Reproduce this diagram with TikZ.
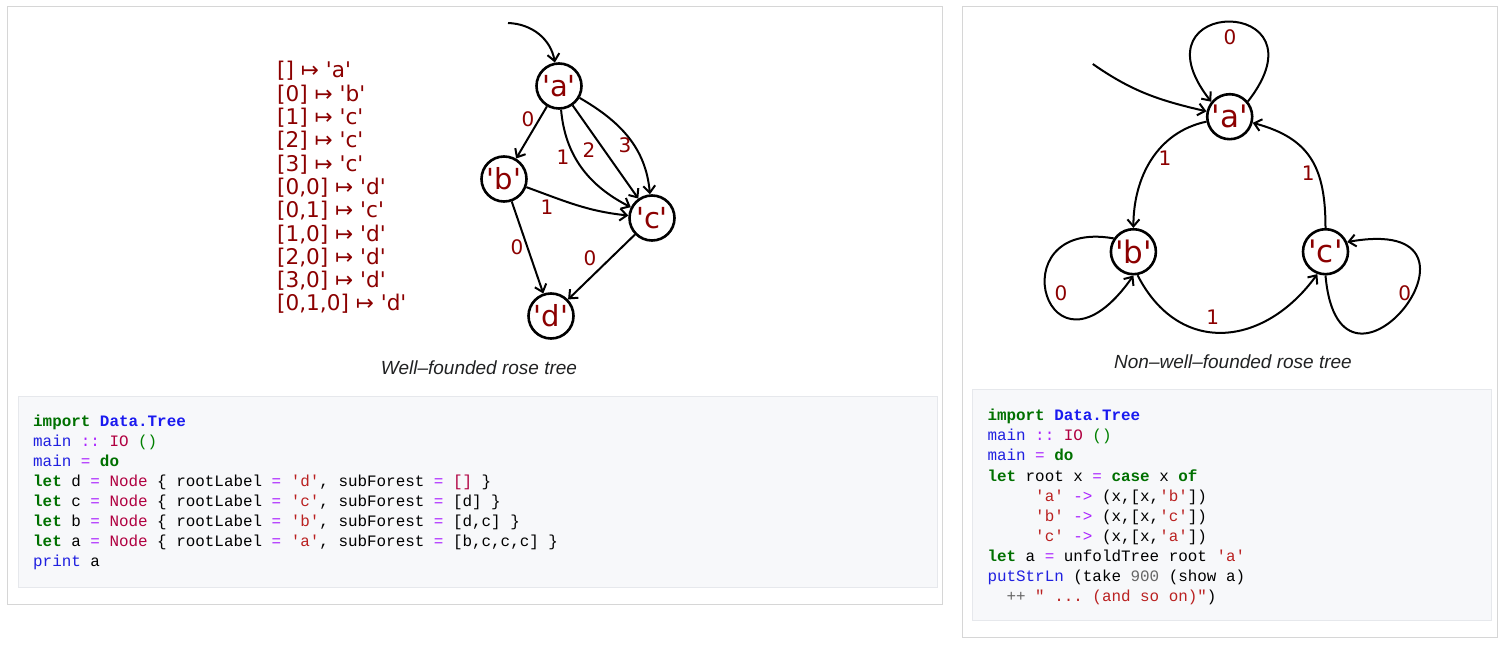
\documentclass[tikz,border=0pt]{standalone}
\usepackage{fontspec}
\setmonofont{Liberation Mono}
\newfontfamily\dvfont{DejaVu Sans}
\newfontfamily\capfont{Liberation Sans}
\usetikzlibrary{arrows.meta}
\definecolor{lblred}{HTML}{8B0000}
\definecolor{panelline}{HTML}{D6D6D6}
\definecolor{codebg}{HTML}{F7F8FA}
\definecolor{codeline}{HTML}{E6E8EC}
\definecolor{ckw}{HTML}{007000}
\definecolor{cns}{HTML}{1A1AF0}
\definecolor{cfn}{HTML}{2020E0}
\definecolor{cop}{HTML}{AA22FF}
\definecolor{cty}{HTML}{B00040}
\definecolor{cun}{HTML}{008000}
\definecolor{cst}{HTML}{BA2121}
\definecolor{cnm}{HTML}{666666}
\definecolor{captxt}{HTML}{202122}
\newcommand\hkw[1]{\textcolor{ckw}{\bfseries #1}}
\newcommand\hns[1]{\textcolor{cns}{\bfseries #1}}
\newcommand\hfn[1]{\textcolor{cfn}{#1}}
\newcommand\hop[1]{\textcolor{cop}{#1}}
\newcommand\hty[1]{\textcolor{cty}{#1}}
\newcommand\hun[1]{\textcolor{cun}{#1}}
\newcommand\hst[1]{\textcolor{cst}{#1}}
\newcommand\hnm[1]{\textcolor{cnm}{#1}}
\tikzset{
  panel/.style={draw=panelline, line width=1pt},
  codebox/.style={draw=codeline, fill=codebg, line width=1pt},
  codeln/.style={anchor=base west, inner sep=0pt, font=\ttfamily\fontsize{15.9}{20}\selectfont},
  mapln/.style={anchor=base west, inner sep=0pt, text=lblred, font=\dvfont\fontsize{21.6}{23}\selectfont},
  stateL/.style={circle, draw, line width=2.6pt, minimum size=45pt, inner sep=0pt, text=lblred, font=\dvfont\fontsize{29}{31}\selectfont},
  stateR/.style={circle, draw, line width=2.6pt, minimum size=45pt, inner sep=0pt, text=lblred, font=\dvfont\fontsize{31}{33}\selectfont},
  lbl/.style={inner sep=0pt, text=lblred, font=\dvfont\fontsize{20}{22}\selectfont},
  edge/.style={line width=2pt, -{Straight Barb[length=7pt,width=12pt]}},
  caption/.style={text=captxt, font=\capfont\itshape\fontsize{19}{21}\selectfont},
}
\begin{document}
\begin{tikzpicture}[x=1pt,y=1pt]
\useasboundingbox (0,0) rectangle (1502,646);
% panels
\draw[panel] (7,42) rectangle (942,639);
\draw[panel] (962,9) rectangle (1497,639);
\draw[codebox] (18,59) rectangle (937,249);
\draw[codebox] (972,26) rectangle (1491,256);

% ---------- left: mapping text ----------
\node[mapln] (m1)  at (277,568.0) {[] ↦ 'a'};
\node[mapln] (m2)  at (277,544.7) {[0] ↦ 'b'};
\node[mapln] (m3)  at (277,521.4) {[1] ↦ 'c'};
\node[mapln] (m4)  at (277,498.1) {[2] ↦ 'c'};
\node[mapln] (m5)  at (277,474.8) {[3] ↦ 'c'};
\node[mapln] (m6)  at (277,451.5) {[0,0] ↦ 'd'};
\node[mapln] (m7)  at (277,428.2) {[0,1] ↦ 'c'};
\node[mapln] (m8)  at (277,404.9) {[1,0] ↦ 'd'};
\node[mapln] (m9)  at (277,381.6) {[2,0] ↦ 'd'};
\node[mapln] (m10) at (277,358.3) {[3,0] ↦ 'd'};
\node[mapln] (m11) at (277,335.0) {[0,1,0] ↦ 'd'};

% ---------- left graph ----------
\node[stateL] (a) at (559,560) {'a'};
\node[stateL] (b) at (504,467) {'b'};
\node[stateL] (c) at (652,428) {'c'};
\node[stateL] (d) at (551,330) {'d'};
\coordinate (inL) at (508,623);
\draw[edge] (inL) to[out=-2,in=100] (a);
\draw[edge] (a) -- (b);
\draw[edge] (a) to[out=-85,in=153] (c);
\draw[edge] (a) -- (c);
\draw[edge] (a) to[out=-30,in=95] (c);
\draw[edge] (b) to[out=-20,in=174] (c);
\draw[edge] (b) -- (d);
\draw[edge] (c) -- (d);
\node[lbl] (l1) at (528,527) {0};
\node[lbl] (l2) at (563,489) {1};
\node[lbl] (l3) at (589,496) {2};
\node[lbl] (l4) at (625,501) {3};
\node[lbl] (l5) at (547,439) {1};
\node[lbl] (l6) at (517,399) {0};
\node[lbl] (l7) at (590,388) {0};
\node[caption] (capL) at (479,278) {Well–founded rose tree};

% ---------- right graph ----------
\node[stateR] (ra) at (1229.7,529.3) {'a'};
\node[stateR] (rb) at (1133.4,394.3) {'b'};
\node[stateR] (rc) at (1325.5,394.3) {'c'};
\coordinate (inR) at (1092.8,582);
\draw[edge] (inR) to[out=-35,in=167] (ra);
\draw[edge] (ra.40) .. controls +(52:135) and +(128:135) .. (ra.141);
\draw[edge] (ra) to[out=192,in=90] (rb);
\draw[edge] (rc) to[out=90,in=-15,looseness=1.2] (ra);
\draw[edge] (rb.146) .. controls +(170:120) and +(235:150) .. (rb.270);
\draw[edge] (rc.270) .. controls +(275:160) and +(10:170) .. (rc.24);
\draw[edge] (rb.-80) .. controls +(-63:91) and +(234:91) .. (rc.250);
\node[lbl] (r1) at (1230,609) {0};
\node[lbl] (r2) at (1165,488) {1};
\node[lbl] (r3) at (1308.3,473) {1};
\node[lbl] (r4) at (1061,353) {0};
\node[lbl] (r5) at (1404.8,353) {0};
\node[lbl] (r6) at (1212.8,329) {1};
\node[caption] (capR) at (1233,284.3) {Non–well–founded rose tree};

% ---------- left code ----------
\node[codeln] (cl1) at (33,220.0) {\hkw{import} \hns{Data.Tree}};
\node[codeln] (cl2) at (33,199.9) {\hfn{main} \hop{::} \hty{IO} \hun{()}};
\node[codeln] (cl3) at (33,179.8) {\hfn{main} \hop{=} \hkw{do}};
\node[codeln] (cl4) at (33,159.7) {\hkw{let} d \hop{=} \hty{Node} \{ rootLabel \hop{=} \hst{'d'}, subForest \hop{=} \hty{[]} \}};
\node[codeln] (cl5) at (33,139.6) {\hkw{let} c \hop{=} \hty{Node} \{ rootLabel \hop{=} \hst{'c'}, subForest \hop{=} [d] \}};
\node[codeln] (cl6) at (33,119.5) {\hkw{let} b \hop{=} \hty{Node} \{ rootLabel \hop{=} \hst{'b'}, subForest \hop{=} [d,c] \}};
\node[codeln] (cl7) at (33,99.4) {\hkw{let} a \hop{=} \hty{Node} \{ rootLabel \hop{=} \hst{'a'}, subForest \hop{=} [b,c,c,c] \}};
\node[codeln] (cl8) at (33,79.3) {\hfn{print} a};

% ---------- right code ----------
\node[codeln] (cr1) at (987.3,225.3) {\hkw{import} \hns{Data.Tree}};
\node[codeln] (cr2) at (987.3,205.2) {\hfn{main} \hop{::} \hty{IO} \hun{()}};
\node[codeln] (cr3) at (987.3,185.1) {\hfn{main} \hop{=} \hkw{do}};
\node[codeln] (cr4) at (987.3,165.0) {\hkw{let} root x \hop{=} \hkw{case} x \hkw{of}};
\node[codeln] (cr5) at (1035,144.9) {\hst{'a'} \hop{->} (x,[x,\hst{'b'}])};
\node[codeln] (cr6) at (1035,124.8) {\hst{'b'} \hop{->} (x,[x,\hst{'c'}])};
\node[codeln] (cr7) at (1035,104.7) {\hst{'c'} \hop{->} (x,[x,\hst{'a'}])};
\node[codeln] (cr8) at (987.3,84.6) {\hkw{let} a \hop{=} unfoldTree root \hst{'a'}};
\node[codeln] (cr9) at (987.3,64.5) {\hfn{putStrLn} (take \hnm{900} (show a)};
\node[codeln] (cr10) at (1006.4,44.4) {\hnm{++} \hst{" ... (and so on)"})};
\end{tikzpicture}
\end{document}
